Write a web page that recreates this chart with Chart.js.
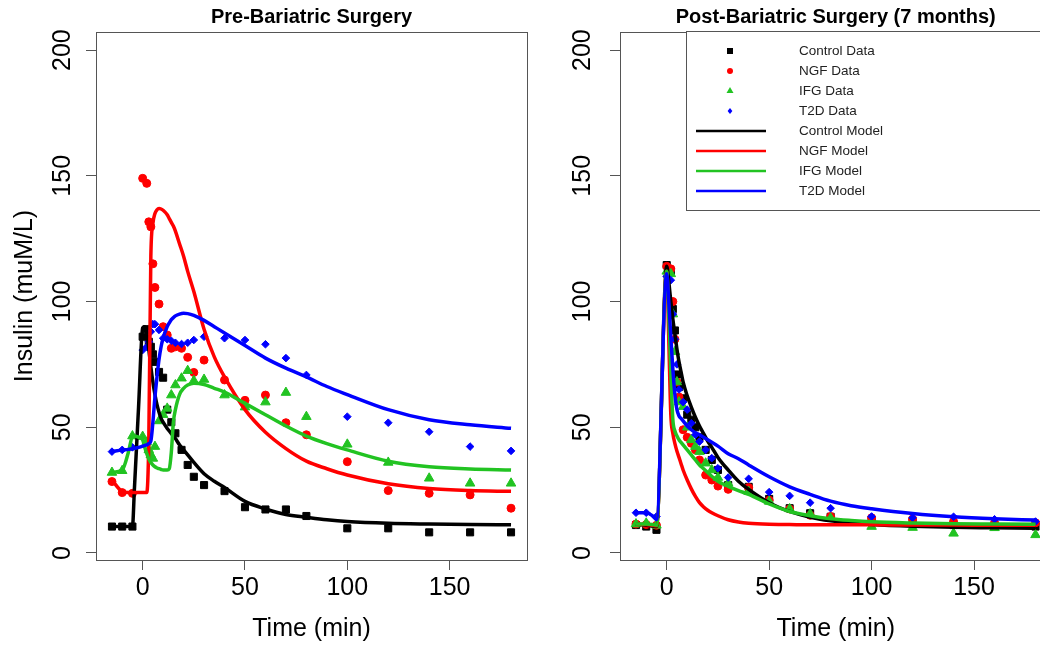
<!DOCTYPE html>
<html lang="en">
<head>
<meta charset="UTF-8">
<title>Insulin response before and after bariatric surgery</title>
<script src="https://cdn.jsdelivr.net/npm/chart.js"></script>
<style>
  html, body { margin: 0; padding: 0; background: #fff; }
  body { width: 1040px; height: 645px; overflow: hidden; position: relative; }
  canvas { position: absolute; top: 0; }
  #pre { left: 0; }
  #post { left: 560px; }
</style>
</head>
<body>
<canvas id="pre" width="560" height="645"></canvas>
<canvas id="post" width="500" height="645"></canvas>
<script>
// sampling times of the measured insulin (min)
const dataTime = [-15, -10, -5, 0, 2, 3, 4, 5, 6, 8, 10, 12, 14, 16, 19, 22, 25, 30, 40, 50, 60, 70, 80, 100, 120, 140, 160, 180];

// measured insulin, pre-surgery (muM/L)
const preControlData = [10.5, 10.5, 10.5, 86, 89, 84, 82, 79, 76, 72, 69.7, 57, 52, 47.6, 41, 35, 30.3, 27, 24.6, 18.2, 17.3, 17.3, 14.7, 9.8, 9.8, 8.2, 8.2, 8.2];
const preNgfData = [28.4, 24, 23.7, 149, 147, 131.7, 129.7, 115, 105.6, 99, 90, 86.7, 81.4, 82, 81.4, 77.8, 71.8, 76.7, 68.8, 60.7, 62.8, 51.8, 47, 36.3, 24.8, 23.7, 23.1, 17.8];
const preIfgData = [32, 32.7, 46.5, 46.3, 44, 41, 39, 37.6, 42.3, 52.5, 55, 57.5, 62.8, 66.8, 69.5, 72.5, 68.5, 69, 62.8, 58, 60, 63.8, 54.2, 43.2, 36, 29.7, 27.7, 27.7];
const preT2dData = [40.3, 41, 42, 80.7, 82, 84, 88, 91, 91, 88.7, 85.4, 85, 84.4, 83.6, 83.1, 83.6, 84.7, 86, 85.4, 84.7, 83, 77.5, 70.8, 54.2, 51.8, 48.2, 42.3, 40.6];

// measured insulin, 7 months after surgery (muM/L)
const postControlData = [11.1, 10.5, 9.2, 114.5, 112, 97, 88.5, 71, 66, 61.5, 55, 53, 50, 46, 41, 37, 33, 27, 26.3, 21.5, 17.8, 15.8, 14.4, 13.1, 12.5, 11.1, 10.5, 10.5];
const postNgfData = [11.5, 11.3, 11, 114, 113, 100, 85, 68, 62, 49, 46, 43.6, 41, 37, 31, 29, 26.6, 25.3, 26, 21, 17.5, 15, 14.5, 14, 13.5, 12.5, 12, 12];
const postIfgData = [11.5, 11.8, 11, 112, 111, 95, 80, 68, 60, 58.2, 50, 45, 42.3, 40.3, 35.7, 33, 30, 27.7, 24.4, 20.5, 17.5, 15.5, 13.8, 10.5, 10.1, 7.8, 10, 7.2];
const postT2dData = [16, 16, 14.5, 110, 108.5, 95, 85, 75, 65, 60, 57, 51.6, 47, 44.3, 41, 37.7, 33.7, 30, 29.5, 24.2, 22.7, 20, 17.8, 14.5, 14, 14.4, 13.4, 12.5];

// model output, pre-surgery
const preModelTime = [-15, -10, -7, -5, -4, -2, 0, 1, 2, 3, 4, 5, 6, 7, 8, 9, 10, 12, 13, 14, 15, 16, 18, 20, 22, 25, 30, 35, 40, 50, 60, 70, 80, 90, 100, 120, 140, 160, 180];
const preControlModel = [10.5, 10.5, 10.5, 10.5, 26, 58, 89.5, 90, 88, 81, 74, 68, 63, 59, 56, 53.5, 52, 49.5, 48.5, 47.5, 46.5, 45.5, 43, 41, 39, 36, 31.5, 28.5, 26, 20.5, 17.5, 15.3, 14.2, 13.2, 12.5, 11.8, 11.5, 11.3, 11.2];
const preNgfModel = [29, 24.4, 24, 24, 24, 24, 24, 24, 24, 45, 118, 131, 135, 136.5, 137, 136.8, 136.3, 134.5, 133, 131.5, 130, 128, 123, 118, 112, 104, 89, 78, 70, 57, 48, 41.5, 36.5, 33.5, 31, 27.5, 25.6, 24.8, 24.5];
const preIfgModel = [32, 33, 40, 46.3, 46.5, 46, 45, 42, 39.5, 37.5, 36, 35, 34.3, 33.8, 33.5, 33.2, 33, 33, 33.5, 40, 52, 57, 63, 65.5, 66.8, 67.5, 67, 65.5, 64, 59.5, 55, 50.5, 46.5, 43.5, 41, 36.5, 34.3, 33.4, 33];
const preT2dModel = [40.3, 41, 41.2, 41.5, 41.6, 42, 42.5, 42.8, 43, 43.5, 44.5, 52, 62, 70, 77, 82, 85.5, 90, 91.5, 92.8, 93.6, 94.3, 95, 95.3, 95.2, 94.5, 92.5, 90, 87.5, 82.5, 77.5, 73.5, 70, 66.2, 63, 57, 53, 51, 49.6];

// model output, 7 months after surgery
const postModelTime = [-15, -10, -7, -5, 0, 1, 2, 3, 4, 5, 6, 7, 8, 10, 12, 14, 16, 18, 20, 22, 25, 30, 35, 40, 50, 60, 70, 80, 90, 100, 120, 140, 160, 180];
const postControlModel = [11.5, 11, 10.7, 10.5, 114, 108, 100, 93, 87, 81, 76, 72, 68, 62.5, 58, 54, 50.5, 47.5, 44.5, 42, 38, 33, 28.5, 25.3, 20, 16.5, 14.2, 12.8, 11.9, 11.3, 10.6, 10.2, 10, 9.8];
const postNgfModel = [11.5, 11.3, 11, 10.8, 112, 85, 55, 47.5, 43.5, 40.5, 38, 35.5, 33, 29, 25.5, 22.5, 20, 18.3, 17, 16, 14.8, 13.2, 12.3, 11.8, 11.4, 11.3, 11.2, 11.2, 11.2, 11.2, 11.1, 11.1, 11, 11];
const postIfgModel = [11.5, 11.5, 11.3, 11, 112, 95, 72, 53, 48.5, 46.5, 45, 44, 43, 41, 39, 37, 35, 33.5, 32, 30.5, 28.5, 26.5, 24.8, 23.3, 19.5, 16.5, 14.8, 13.6, 12.9, 12.4, 11.9, 11.6, 11.5, 11.4];
const postT2dModel = [16, 16, 14.8, 13.3, 111, 100, 86, 73, 63, 57, 54.5, 53.5, 52.5, 50.5, 49, 47.8, 47, 46, 45, 44, 42.5, 39.5, 37.5, 35, 30.3, 26.3, 23.3, 20.6, 18.8, 17.6, 15.7, 14.4, 13.6, 13.1];

const xTicks = [0, 50, 100, 150];
const yTicks = [0, 50, 100, 150, 200];

const groups = ['Control', 'NGF', 'IFG', 'T2D'];
const colors = ['#000000', '#ff0000', '#22c322', '#0000ff'];
const markStyles = ['rect', 'circle', 'triangle', 'rectRot'];
const markSizes = [5, 4, 5.5, 3.8];

const FONT = '"Liberation Sans", Arial, Helvetica, sans-serif';
const AXIS = '#555555';

function toPoints(xs, ys) {
    return xs.map((x, i) => ({ x: x, y: ys[i] }));
}

// first dataset is painted last, so curves go first (T2D on top), then the symbols
function buildDatasets(dataSets, modelTime, modelSets) {
    const lines = [];
    const marks = [];
    for (let g = 3; g >= 0; g--) {
        lines.push({
            label: groups[g] + ' Model',
            data: toPoints(modelTime, modelSets[g]),
            borderColor: colors[g],
            borderWidth: 3.5,
            pointRadius: 0,
            cubicInterpolationMode: 'monotone',
            fill: false
        });
        marks.push({
            label: groups[g] + ' Data',
            data: toPoints(dataTime, dataSets[g]),
            showLine: false,
            pointStyle: markStyles[g],
            pointRadius: markSizes[g],
            pointBackgroundColor: colors[g],
            pointBorderColor: colors[g],
            pointBorderWidth: 1
        });
    }
    return lines.concat(marks);
}

// box round the plot region and the rotated y tick labels
function framePlugin(labelOffset) {
    return {
        id: 'frame',
        afterDraw(chart) {
            const ctx = chart.ctx;
            const a = chart.chartArea;
            const y = chart.scales.y;
            ctx.save();
            ctx.strokeStyle = AXIS;
            ctx.lineWidth = 1;
            ctx.strokeRect(Math.round(a.left) + 0.5, Math.round(a.top) + 0.5,
                Math.round(a.right - a.left), Math.round(a.bottom - a.top));
            ctx.fillStyle = '#000';
            ctx.font = '25px ' + FONT;
            ctx.textAlign = 'center';
            ctx.textBaseline = 'middle';
            y.ticks.forEach(t => {
                ctx.save();
                ctx.translate(a.left - labelOffset, y.getPixelForValue(t.value));
                ctx.rotate(-Math.PI / 2);
                ctx.fillText(String(t.value), 0, 0);
                ctx.restore();
            });
            ctx.restore();
        }
    };
}

function drawSymbol(ctx, style, x, y, r) {
    ctx.beginPath();
    if (style === 'rect') {
        ctx.rect(x - r, y - r, 2 * r, 2 * r);
    } else if (style === 'circle') {
        ctx.arc(x, y, r, 0, Math.PI * 2);
    } else if (style === 'triangle') {
        ctx.moveTo(x, y - r * 1.15);
        ctx.lineTo(x + r, y + r * 0.6);
        ctx.lineTo(x - r, y + r * 0.6);
        ctx.closePath();
    } else {
        ctx.moveTo(x, y - r);
        ctx.lineTo(x + r * 0.8, y);
        ctx.lineTo(x, y + r);
        ctx.lineTo(x - r * 0.8, y);
        ctx.closePath();
    }
    ctx.fill();
}

// legend box in the top right corner of the post-surgery panel
const legendPlugin = {
    id: 'boxLegend',
    afterDraw(chart) {
        const ctx = chart.ctx;
        const a = chart.chartArea;
        const left = 126, top = a.top - 1, bottom = 210;
        ctx.save();
        ctx.fillStyle = '#fff';
        ctx.fillRect(left, top, a.right - left, bottom - top);
        ctx.strokeStyle = AXIS;
        ctx.lineWidth = 1;
        ctx.strokeRect(left + 0.5, top + 0.5, a.right - left, bottom - top);
        ctx.font = '13.5px ' + FONT;
        ctx.textBaseline = 'middle';
        ctx.textAlign = 'left';
        const symSizes = [3, 3, 3.5, 3];
        for (let g = 0; g < 4; g++) {
            const yData = 51 + 20 * g;
            const yModel = 51 + 20 * (g + 4);
            ctx.fillStyle = colors[g];
            drawSymbol(ctx, markStyles[g], 170, yData, symSizes[g]);
            ctx.strokeStyle = colors[g];
            ctx.lineWidth = 2.5;
            ctx.beginPath();
            ctx.moveTo(136, yModel);
            ctx.lineTo(206, yModel);
            ctx.stroke();
            ctx.fillStyle = '#222';
            ctx.fillText(groups[g] + ' Data', 239, yData);
            ctx.fillText(groups[g] + ' Model', 239, yModel);
        }
        ctx.restore();
    }
};

function makePanel(id, titleText, datasets, yAxisWidth, rightPad, showYTitle, labelOffset, extraPlugins) {
    return new Chart(document.getElementById(id), {
        type: 'line',
        data: { datasets: datasets },
        options: {
            responsive: false,
            animation: false,
            devicePixelRatio: 1,
            layout: { padding: { top: 0, right: rightPad, bottom: 0, left: 0 } },
            plugins: {
                legend: { display: false },
                tooltip: { enabled: false },
                title: {
                    display: true,
                    text: titleText,
                    fullSize: false,
                    color: '#000',
                    font: { family: FONT, size: 20, weight: 'bold', lineHeight: 1.2 },
                    padding: { top: 5, bottom: 3 }
                }
            },
            scales: {
                x: {
                    type: 'linear',
                    min: -22.8,
                    max: 187.8,
                    afterBuildTicks: s => { s.ticks = xTicks.map(v => ({ value: v })); },
                    afterFit: s => { s.height = 85; },
                    grid: { drawOnChartArea: false, drawTicks: true, tickLength: 10, color: AXIS },
                    border: { display: false },
                    ticks: { color: '#000', font: { family: FONT, size: 25, lineHeight: 1.2 }, padding: 3, maxRotation: 0, autoSkip: false },
                    title: {
                        display: true,
                        text: 'Time (min)',
                        color: '#000',
                        font: { family: FONT, size: 25, lineHeight: 1.2 },
                        padding: { top: 0, bottom: 1 }
                    }
                },
                y: {
                    type: 'linear',
                    min: -2.8,
                    max: 207.2,
                    afterBuildTicks: s => { s.ticks = yTicks.map(v => ({ value: v })); },
                    afterFit: s => { s.width = yAxisWidth; },
                    grid: { drawOnChartArea: false, drawTicks: true, tickLength: 10, color: AXIS },
                    border: { display: false },
                    ticks: { display: false },
                    title: {
                        display: showYTitle,
                        text: 'Insulin (muM/L)',
                        color: '#000',
                        font: { family: FONT, size: 25, lineHeight: 1.2 },
                        padding: { top: 10, bottom: 0 }
                    }
                }
            }
        },
        plugins: [framePlugin(labelOffset)].concat(extraPlugins)
    });
}

makePanel('pre', 'Pre-Bariatric Surgery',
    buildDatasets([preControlData, preNgfData, preIfgData, preT2dData], preModelTime,
        [preControlModel, preNgfModel, preIfgModel, preT2dModel]),
    96, 33, true, 33, []);

makePanel('post', 'Post-Bariatric Surgery (7 months)',
    buildDatasets([postControlData, postNgfData, postIfgData, postT2dData], postModelTime,
        [postControlModel, postNgfModel, postIfgModel, postT2dModel]),
    60, 8.5, false, 37, [legendPlugin]);
</script>
</body>
</html>
